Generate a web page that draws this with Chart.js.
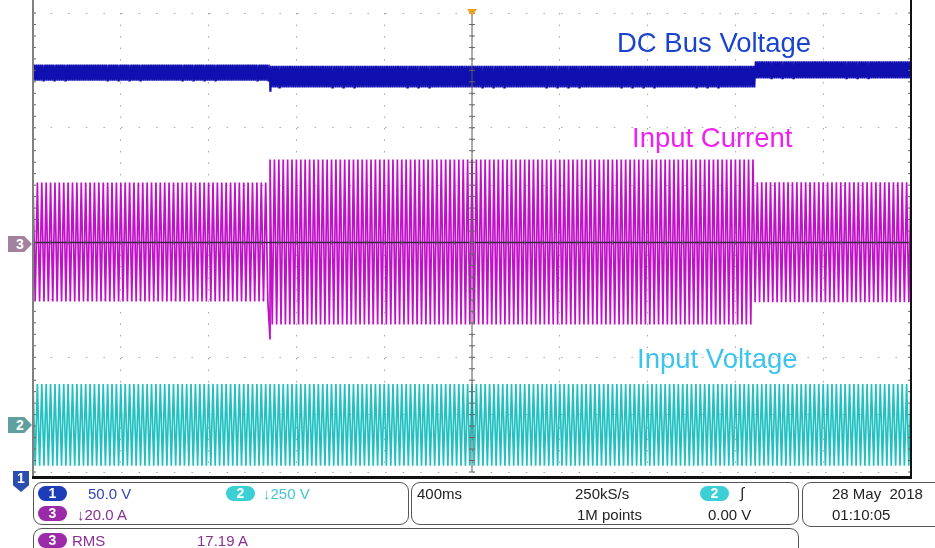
<!DOCTYPE html>
<html>
<head>
<meta charset="utf-8">
<script src="https://cdn.jsdelivr.net/npm/chart.js@4"></script>
<style>
body { margin:0; background:#fff; font-family:"Liberation Sans", Arial, sans-serif; }
#wrap { position:relative; width:935px; height:548px; overflow:hidden; }
#plot { position:absolute; left:0; top:0; }
.lbl { position:absolute; font-size:27.5px; line-height:28px; white-space:nowrap; }
.box { position:absolute; border:1.5px solid #555; border-radius:9px; box-sizing:border-box; }
.t { position:absolute; font-size:15px; line-height:15px; white-space:nowrap; }
.pill { position:absolute; width:29px; height:15px; border-radius:8px; color:#fff; font-size:14px; font-weight:bold; text-align:center; line-height:15px; }
.mk { position:absolute; color:#fff; font-weight:bold; font-size:14px; text-align:center; }
</style>
</head>
<body>
<div id="wrap">
<canvas id="plot" width="935" height="548"></canvas>

<div class="lbl" style="left:617px;top:29px;color:#1a44cc;">DC Bus Voltage</div>
<div class="lbl" style="left:632px;top:124px;color:#ee22ee;">Input Current</div>
<div class="lbl" style="left:637px;top:345px;color:#3cc4f0;">Input Voltage</div>

<div class="mk" style="left:8px;top:236px;width:24px;height:16px;line-height:16px;background:#a2829f;clip-path:polygon(0 0,68% 0,100% 50%,68% 100%,0 100%);">3</div>
<div class="mk" style="left:8px;top:417px;width:24px;height:16px;line-height:16px;background:#5f9f9d;clip-path:polygon(0 0,68% 0,100% 50%,68% 100%,0 100%);">2</div>
<div class="mk" style="left:13px;top:471px;width:16px;height:21px;line-height:15px;background:#2c4cb0;clip-path:polygon(0 0,100% 0,100% 68%,50% 100%,0 68%);">1</div>

<div class="box" style="left:33px;top:482px;width:376px;height:43px;"></div>
<div class="box" style="left:411px;top:482px;width:388px;height:43px;"></div>
<div class="box" style="left:802px;top:482px;width:160px;height:45px;"></div>
<div class="box" style="left:33px;top:528px;width:766px;height:40px;"></div>

<div class="pill" style="left:38px;top:486px;background:#1c3cb8;">1</div>
<div class="t" style="left:88px;top:486px;color:#3444b8;">50.0 V</div>
<div class="pill" style="left:226px;top:486px;background:#3ccfd6;">2</div>
<div class="t" style="left:263px;top:486px;color:#40c6d0;">↓250 V</div>
<div class="pill" style="left:38px;top:506px;background:#9a2aa8;">3</div>
<div class="t" style="left:77px;top:507px;color:#8a3094;">↓20.0 A</div>

<div class="t" style="left:417px;top:486px;color:#222;">400ms</div>
<div class="t" style="left:575px;top:486px;color:#222;">250kS/s</div>
<div class="t" style="left:577px;top:507px;color:#222;">1M points</div>
<div class="pill" style="left:700px;top:486px;background:#3ccfd6;">2</div>
<div class="t" style="left:740px;top:485px;color:#222;font-style:italic;">∫</div>
<div class="t" style="left:708px;top:507px;color:#222;">0.00 V</div>

<div class="t" style="left:832px;top:486px;color:#222;">28 May&nbsp; 2018</div>
<div class="t" style="left:832px;top:507px;color:#222;">01:10:05</div>

<div class="pill" style="left:38px;top:533px;background:#9a2aa8;">3</div>
<div class="t" style="left:72px;top:533px;color:#8a3094;">RMS</div>
<div class="t" style="left:197px;top:533px;color:#8a3094;">17.19 A</div>
</div>

<script>
// time base: 400 ms/div, trigger at centre
var timeRange = [-2, 2];
var stepTimes = [-2, -0.92, 1.29, 2];      // load step on / off (s)
var lineHz = 50;
var rippleHz = 120;

// DC bus voltage, CH1 (V)
var busHigh = [355, 354, 358];
var busLow = [341, 335, 343];
var busDip = [-0.92, 332];

// input current, CH3 (A)
var currentHigh = [20.9, 28.9, 21.0];
var currentLow = [-20.6, -28.6, -20.8];
var currentDip = [-0.92, -33.8];

// input voltage, CH2 (V)
var voltHigh = [178, 178, 178];
var voltLow = [-178, -178, -178];

function segmentOf(t) {
    for (var i = 0; i < stepTimes.length - 2; i++) {
        if (t < stepTimes[i + 1]) return i;
    }
    return stepTimes.length - 2;
}

// peaks of the trace, one per half cycle
function trace(hz, hi, lo, dip) {
    var pts = [];
    var half = 1 / (2 * hz);
    var n = Math.round((timeRange[1] - timeRange[0]) / half);
    for (var k = 0; k <= n; k++) {
        var t = timeRange[0] + k * half;
        var s = segmentOf(t);
        pts.push({ x: t, y: k % 2 ? lo[s] : hi[s] });
        if (dip && t < dip[0] && t + half >= dip[0]) pts.push({ x: dip[0], y: dip[1] });
    }
    return pts;
}

var frame = {
    id: 'frame',
    afterDatasetsDraw: function (chart) {
        var ctx = chart.ctx, a = chart.chartArea;
        var cx = chart.scales.x.getPixelForValue(0);
        var cy = chart.scales.y.getPixelForValue(0);
        var dx = (a.right - a.left) / 50, dy = (a.bottom - a.top) / 40;
        ctx.save();
        ctx.strokeStyle = '#5a5a5a';
        ctx.lineWidth = 1;
        ctx.beginPath();
        ctx.moveTo(cx, a.top); ctx.lineTo(cx, a.bottom);
        ctx.stroke();
        ctx.strokeStyle = '#3c2a44';
        ctx.lineWidth = 1.5;
        ctx.beginPath();
        ctx.moveTo(a.left, cy); ctx.lineTo(a.right, cy);
        ctx.stroke();
        ctx.strokeStyle = '#666';
        ctx.lineWidth = 1;
        ctx.beginPath();
        for (var i = 0; i <= 50; i++) {
            var x = a.left + i * dx;
            ctx.moveTo(x, cy - 2); ctx.lineTo(x, cy + 2);
        }
        for (var j = 0; j <= 40; j++) {
            var y = a.top + j * dy;
            ctx.moveTo(cx - 3, y); ctx.lineTo(cx + 3, y);
            ctx.moveTo(a.left, y); ctx.lineTo(a.left + 3, y);
            ctx.moveTo(a.right - 3, y); ctx.lineTo(a.right, y);
        }
        ctx.stroke();
        ctx.fillStyle = '#808080';
        ctx.fillRect(a.left - 1, 0, 2, a.bottom + 7);
        ctx.fillStyle = '#111';
        ctx.fillRect(a.right - 1, 0, 2, a.bottom + 7);
        ctx.fillRect(a.left - 1, a.bottom + 4, a.right - a.left + 2, 3);
        ctx.fillStyle = '#f0a020';
        ctx.beginPath();
        ctx.moveTo(cx - 5, a.top - 4); ctx.lineTo(cx + 5, a.top - 4); ctx.lineTo(cx, a.top + 3);
        ctx.closePath();
        ctx.fill();
        ctx.restore();
    }
};

var ctx = document.getElementById('plot').getContext('2d');
var grafico = new Chart(ctx, {
    type: 'scatter',
    data: {
        datasets: [
            {
                label: 'DC Bus Voltage',
                data: trace(rippleHz, busHigh, busLow, busDip),
                yAxisID: 'yBus',
                borderColor: '#1010b0',
                borderWidth: 1.6
            },
            {
                label: 'Input Current',
                data: trace(lineHz, currentHigh, currentLow, currentDip),
                yAxisID: 'yCur',
                borderColor: '#c010c8',
                borderWidth: 1.7
            },
            {
                label: 'Input Voltage',
                data: trace(lineHz, voltHigh, voltLow),
                yAxisID: 'yIn',
                borderColor: '#22c0c0',
                borderWidth: 1.7
            }
        ]
    },
    options: {
        responsive: false,
        animation: false,
        events: [],
        showLine: true,
        elements: { point: { radius: 0 }, line: { tension: 0 } },
        layout: { padding: { left: 33, right: 24, top: 13, bottom: 76 } },
        plugins: { legend: { display: false }, tooltip: { enabled: false } },
        scales: {
            x: {
                type: 'linear', min: timeRange[0], max: timeRange[1],
                ticks: { display: false, stepSize: 0.4 },
                grid: { color: '#a8a8a8', drawTicks: false, lineWidth: 1 },
                border: { display: false, dash: [1.5, 10] }
            },
            y: {
                min: -4, max: 4,
                ticks: { display: false, stepSize: 1 },
                grid: { color: '#a8a8a8', drawTicks: false, lineWidth: 1 },
                border: { display: false, dash: [1.5, 16.1] }
            },
            yBus: { display: false, min: 0, max: 400 },
            yCur: { display: false, min: -80, max: 80 },
            yIn: { display: false, min: -205, max: 1795 }
        }
    },
    plugins: [frame]
});
</script>
</body>
</html>
